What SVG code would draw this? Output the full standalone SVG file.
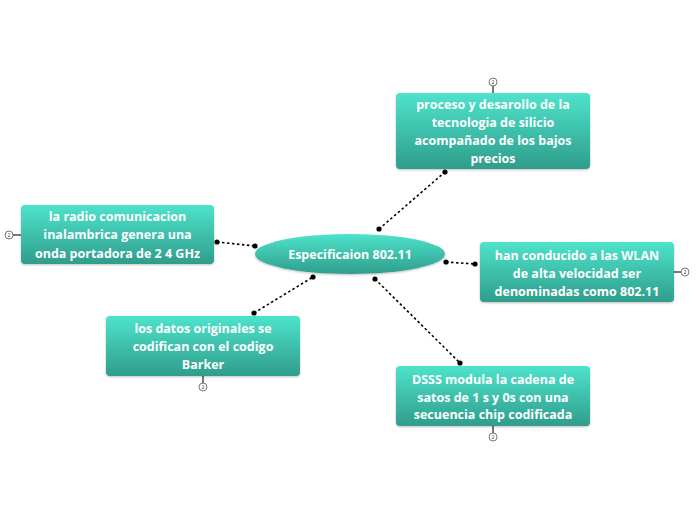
<svg xmlns="http://www.w3.org/2000/svg" width="696" height="520" viewBox="0 0 696 520">
<defs>
<linearGradient id="g" x1="0" y1="0" x2="0" y2="1">
<stop offset="0" stop-color="#4ee3cb"/>
<stop offset="1" stop-color="#2f9d8c"/>
</linearGradient>
<filter id="sh" x="-10%" y="-10%" width="120%" height="130%">
<feDropShadow dx="0" dy="1" stdDeviation="1" flood-color="#000" flood-opacity="0.25"/>
</filter>
</defs>
<style>
.box{fill:url(#g);filter:url(#sh)}
.t{font-family:"Open Sans","Liberation Sans",sans-serif;font-weight:bold;font-size:12.5px;fill:#fff;text-anchor:middle}
.c{stroke:#000;stroke-width:1.6;stroke-dasharray:2.5 2.5;fill:none}
.d{fill:#000}
.k{fill:#fff;stroke:#555;stroke-width:0.8}
.kl{stroke:#222;stroke-width:1.2}
.kt{font-family:"Open Sans","Liberation Sans",sans-serif;font-size:5px;fill:#333;text-anchor:middle}
</style>
<rect width="696" height="520" fill="#fff"/>
<g id="connectors">
<line class="c" x1="379" y1="229" x2="445" y2="172"/>
<circle class="d" cx="379" cy="229" r="2.6"/><circle class="d" cx="445" cy="172" r="2.6"/>
<line class="c" x1="217" y1="242" x2="255" y2="246"/>
<circle class="d" cx="217" cy="242" r="2.6"/><circle class="d" cx="255" cy="246" r="2.6"/>
<line class="c" x1="446" y1="262" x2="475" y2="264"/>
<circle class="d" cx="446" cy="262" r="2.6"/><circle class="d" cx="475" cy="264" r="2.6"/>
<line class="c" x1="254" y1="313" x2="313" y2="277"/>
<circle class="d" cx="254" cy="313" r="2.6"/><circle class="d" cx="313" cy="277" r="2.6"/>
<line class="c" x1="375" y1="279" x2="460" y2="363"/>
<circle class="d" cx="375" cy="279" r="2.6"/><circle class="d" cx="460" cy="363" r="2.6"/>
</g>
<g id="center">
<ellipse class="box" cx="350" cy="254" rx="95" ry="20"/>
<text class="t" x="350" y="258.5">Especificaion 802.11</text>
</g>
<g id="n1">
<line class="kl" x1="493" y1="86" x2="493" y2="93"/>
<circle class="k" cx="493" cy="82" r="4"/><text class="kt" x="493" y="84">2</text>
<rect class="box" x="396" y="93" width="194" height="76" rx="4"/>
<text class="t" x="493" y="108.5">proceso y desarollo de la</text>
<text class="t" x="493" y="126.5">tecnologia de silicio</text>
<text class="t" x="493" y="144.5">acompañado de los bajos</text>
<text class="t" x="493" y="162.5">precios</text>
</g>
<g id="n2">
<line class="kl" x1="13" y1="235" x2="21" y2="235"/>
<circle class="k" cx="9" cy="235" r="4"/><text class="kt" x="9" y="237">2</text>
<rect class="box" x="21" y="205" width="193" height="59" rx="4"/>
<text class="t" x="117.5" y="220.5">la radio comunicacion</text>
<text class="t" x="117.5" y="239">inalambrica genera una</text>
<text class="t" x="117.5" y="257.5">onda portadora de 2 4 GHz</text>
</g>
<g id="n3">
<line class="kl" x1="674" y1="272" x2="681" y2="272"/>
<circle class="k" cx="685" cy="272" r="4"/><text class="kt" x="685" y="274">2</text>
<rect class="box" x="480" y="242" width="194" height="60" rx="4"/>
<text class="t" x="577" y="259.5">han conducido a las WLAN</text>
<text class="t" x="577" y="277.5">de alta velocidad ser</text>
<text class="t" x="577" y="295.5">denominadas como 802.11</text>
</g>
<g id="n4">
<line class="kl" x1="203" y1="376" x2="203" y2="383"/>
<circle class="k" cx="203" cy="387" r="4"/><text class="kt" x="203" y="389">2</text>
<rect class="box" x="106" y="316" width="194" height="60" rx="4"/>
<text class="t" x="203" y="332.5">los datos originales se</text>
<text class="t" x="203" y="350.5">codifican con el codigo</text>
<text class="t" x="203" y="368.5">Barker</text>
</g>
<g id="n5">
<line class="kl" x1="493" y1="426" x2="493" y2="433"/>
<circle class="k" cx="493" cy="437" r="4"/><text class="kt" x="493" y="439">2</text>
<rect class="box" x="396" y="366" width="194" height="60" rx="4"/>
<text class="t" x="493" y="384">DSSS modula la cadena de</text>
<text class="t" x="493" y="401.5">satos de 1 s y 0s con una</text>
<text class="t" x="493" y="419">secuencia chip codificada</text>
</g>
</svg>
